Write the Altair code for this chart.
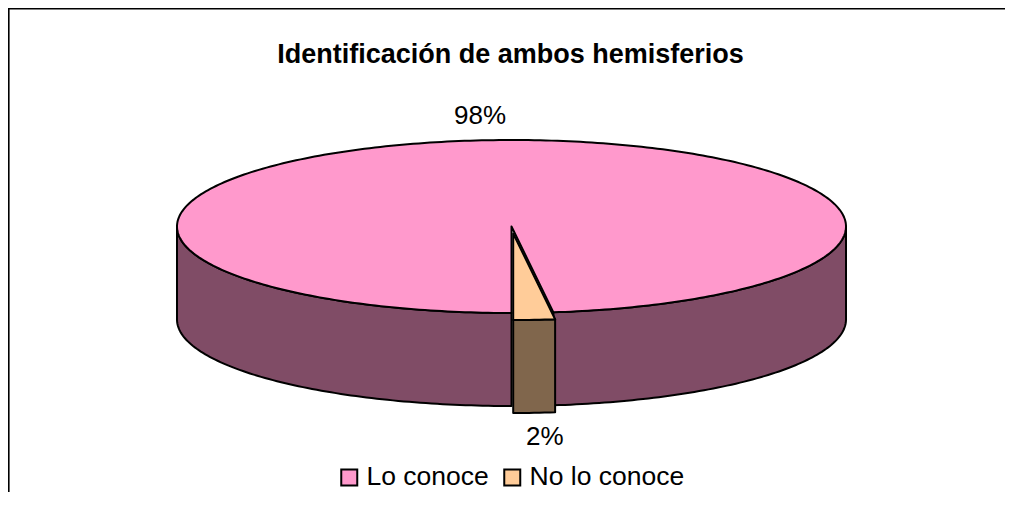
import math
import numpy as np
import pandas as pd
import altair as alt

# ---- data ----
categories = ["Lo conoce", "No lo conoce"]
values = [98, 2]
pct_labels = ["98%", "2%"]
title_text = "Identificación de ambos hemisferios"

# ---- style / layout ----
top_colors = ["#FF99CC", "#FFCC99"]
side_colors = ["#804C66", "#80664C"]
explode = [0.0, 0.081]
W, H = 997, 484
CX, CY = 503.5, 218.5
RX, RY = 334.5, 86.5
DEPTH = 93
START = 180.0
LAB_RX, LAB_RY = 502, 111
FONT = "Liberation Sans"
FS = 26
PROJ = dict(type="identity", scale=1, translate=[0, 0])


def pt(theta, dx=0.0, dy=0.0, drop=0.0):
    t = math.radians(theta)
    return [CX + RX * math.sin(t) + dx, CY - RY * math.cos(t) + dy + drop]


def feature(ring, props):
    return {"type": "Feature", "properties": props,
            "geometry": {"type": "Polygon", "coordinates": [ring]}}


total = float(sum(values))
walls, tops, lab_rows = [], [], []
a = START
for cat, v, lab, sc, ex in zip(categories, values, pct_labels, side_colors, explode):
    b = a + 360.0 * v / total
    mid = (a + b) / 2
    dx = ex * RX * math.sin(math.radians(mid))
    dy = -ex * RY * math.cos(math.radians(mid))
    n = max(int(b - a) + 2, 3)
    arc = [pt(t, dx, dy) for t in np.linspace(a, b, n)]
    c = [CX + dx, CY + dy]
    tops.append(feature([c] + arc + [c], {"cat": cat}))
    for k in range(-1, 3):
        lo = max(a, 90 + 360 * k)
        hi = min(b, 270 + 360 * k)
        if hi > lo:
            ts = np.linspace(lo, hi, int(hi - lo) + 2)
            upper = [pt(t, dx, dy) for t in ts]
            lower = [pt(t, dx, dy, DEPTH) for t in ts[::-1]]
            walls.append(feature(upper + lower + [upper[0]], {"fill": sc}))
    cm = math.cos(math.radians(mid))
    lx = CX + LAB_RX * math.sin(math.radians(mid)) + dx
    ly = CY - LAB_RY * cm + dy + (DEPTH if cm < 0 else 0)
    lab_rows.append({"label": lab, "lon": lx, "lat": ly})
    a = b

border = alt.Chart(alt.Data(values=[{
    "type": "Feature", "properties": {},
    "geometry": {"type": "LineString",
                 "coordinates": [[0.8, H], [0.8, 0.8], [W, 0.8]]}}])).mark_geoshape(
    filled=False, stroke="black", strokeWidth=1.6).project(**PROJ)

wall_layer = alt.Chart(alt.Data(values=walls)).mark_geoshape(
    stroke="black", strokeWidth=2, strokeJoin="round").encode(
    fill=alt.Fill("properties.fill:N", scale=None, legend=None)).project(**PROJ)

top_layer = alt.Chart(alt.Data(values=tops)).mark_geoshape(
    stroke="black", strokeWidth=2, strokeJoin="round").encode(
    fill=alt.Fill("properties.cat:N",
                  scale=alt.Scale(domain=categories, range=top_colors),
                  legend=alt.Legend(
                      title=None, orient="none", direction="horizontal",
                      legendX=328, legendY=456, padding=0,
                      symbolType="square", symbolSize=256,
                      symbolStrokeColor="black", symbolStrokeWidth=2,
                      symbolOpacity=1,
                      labelFont=FONT, labelFontSize=26.5, labelColor="black",
                      labelOffset=4, columnPadding=10, labelLimit=400))
).project(**PROJ)

label_layer = alt.Chart(pd.DataFrame(lab_rows)).mark_text(
    font=FONT, fontSize=FS, color="black", baseline="middle", align="center").encode(
    longitude="lon:Q", latitude="lat:Q", text="label:N").project(**PROJ)

title_layer = alt.Chart(pd.DataFrame({"t": [title_text]})).mark_text(
    font=FONT, fontSize=27, fontWeight="bold", color="black",
    baseline="alphabetic", align="center").encode(
    x=alt.value(CX - 1), y=alt.value(55), text="t:N")

chart = alt.layer(border, wall_layer, top_layer, label_layer, title_layer).resolve_scale(
    fill="independent"
).properties(
    width=W, height=H, padding=0, autosize=alt.AutoSizeParams(type="none"),
    background="white"
).configure_view(stroke=None)

chart.save("out.html", embed_options={"renderer": "svg", "actions": False})
